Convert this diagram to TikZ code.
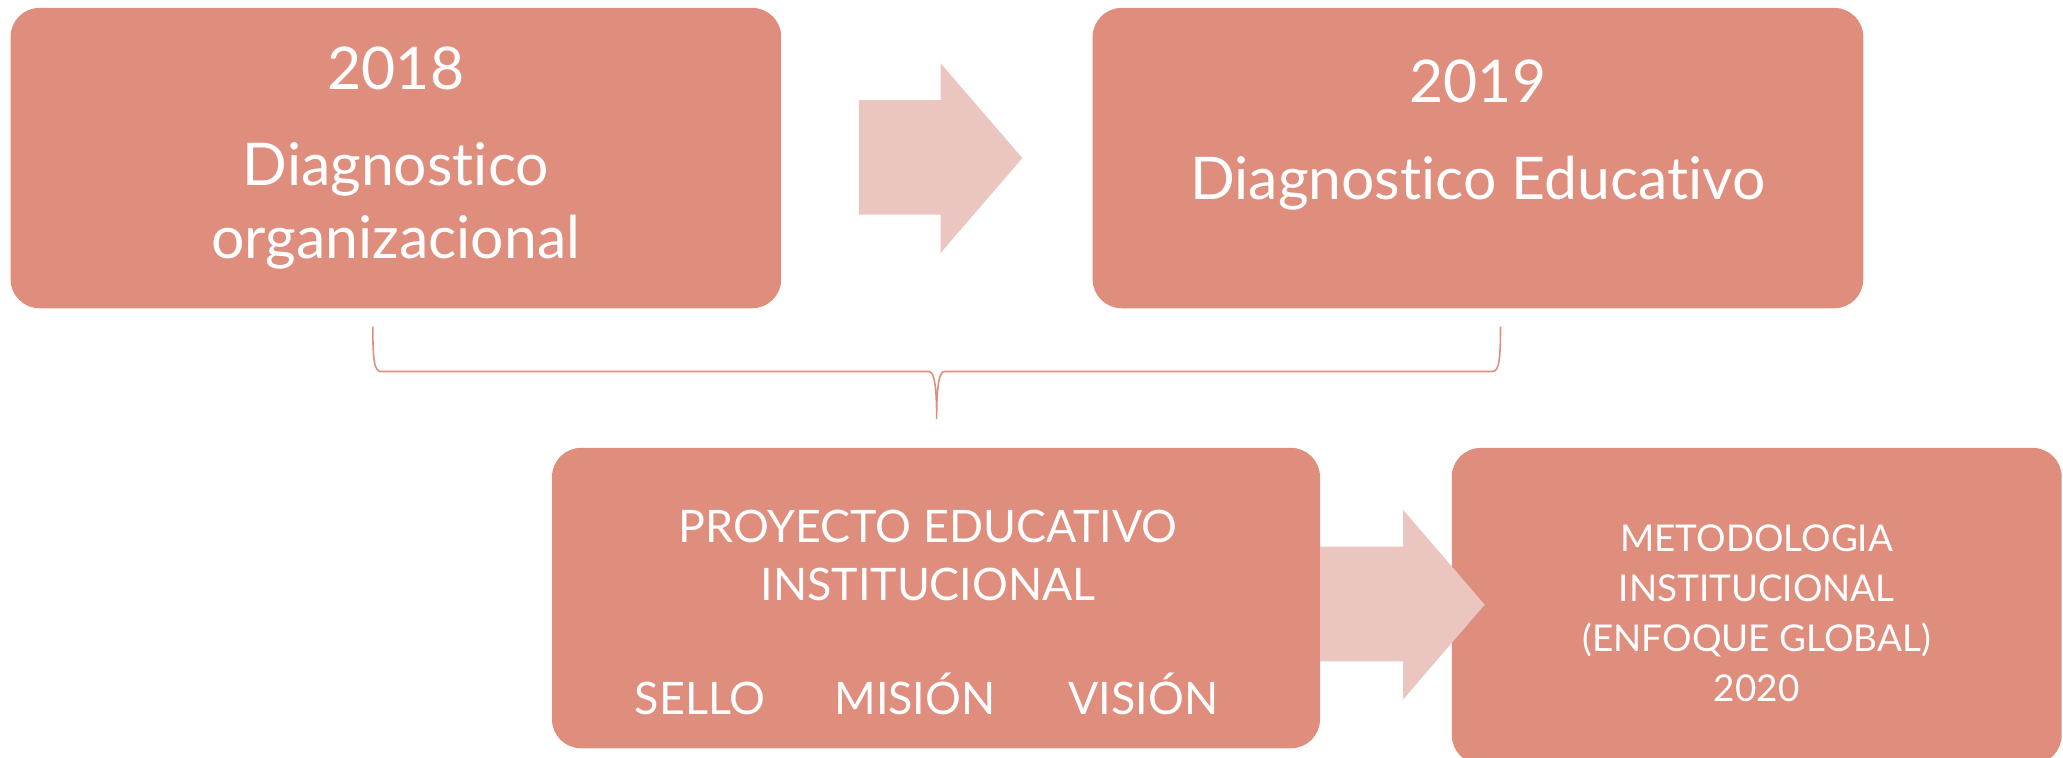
\documentclass[tikz,border=0pt]{standalone}
\usepackage{fontspec}
\setmainfont{Lato}[RawFeature=-liga]
\usetikzlibrary{positioning}
\definecolor{salmon}{HTML}{DF8D7D}
\definecolor{pale}{HTML}{EBC5BF}
\begin{document}
\begin{tikzpicture}[x=1pt, y=-1pt, node distance={236pt},
  main/.style = {fill=salmon, rounded corners=22pt, text=white, align=center, inner sep=0pt},
  big/.style = {font=\fontsize{44.7}{55}\selectfont},
  caps/.style = {text=white, align=center, inner sep=0pt, font=\fontsize{34}{44}\selectfont},
  small/.style = {text=white, align=center, inner sep=0pt, font=\fontsize{28}{38}\selectfont},
  pale arrow/.style = {fill=pale},
  brace/.style = {draw=salmon, line width=1.2pt}]
\useasboundingbox (0,0) rectangle (1566,575);
\node[main, big, minimum width=585pt, minimum height=228pt] (1) at (300.5,120) {2018\\[18pt]Diagnostico\\organizacional};
\node[main, big, minimum width=585pt, minimum height=228pt] (2) [right=of 1] {2019\\[19pt]Diagnostico Educativo\\[-12pt]\mbox{}};
\node[main, minimum width=583pt, minimum height=228pt] (3) at (710.5,454) {};
\node[caps, anchor=north] (pei) at (704.5,387) {PROYECTO EDUCATIVO\\INSTITUCIONAL};
\node[caps, anchor=base] (sello) at (531.5,542) {SELLO};
\node[caps, anchor=base] (mision) at (694.5,542) {MISIÓN};
\node[caps, anchor=base] (vision) at (868,542) {VISIÓN};
\node[main, minimum width=463pt, minimum height=240pt] (4) at (1333.5,460) {};
\node[small, anchor=north] (met) at (1333.5,398) {METODOLOGIA\\INSTITUCIONAL\\(ENFOQUE GLOBAL)\\2020};
% arrows between the boxes
\fill[pale arrow] (652,76) -- (714,76) -- (714,48) -- (776,120) -- (714,192) -- (714,163) -- (652,163) -- cycle;
\fill[pale arrow] (1002,415) -- (1065,415) -- (1065,387) -- (1127,459) -- (1065,531) -- (1065,502) -- (1002,502) -- cycle;
% brace
\coordinate (bl) at (283,248);
\coordinate (br) at (1139,248);
\coordinate (tip) at (711,318);
\draw[brace] (bl) .. controls (283,272) and (284,282) .. (289,282) -- (705,282) .. controls (709,282) and (711,292) .. (tip) .. controls (711,292) and (713,282) .. (717,282) -- (1133,282) .. controls (1138,282) and (1139,272) .. (br);
\end{tikzpicture}
\end{document}
